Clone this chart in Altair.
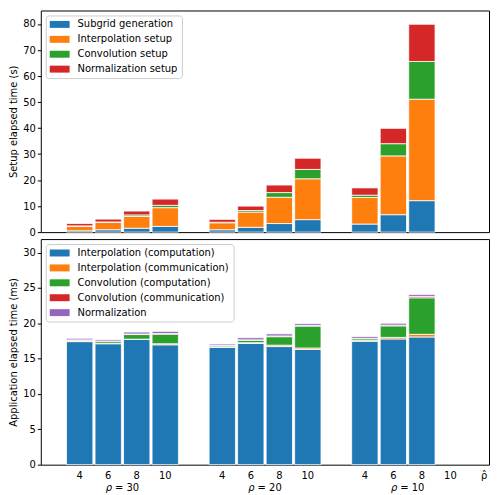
import altair as alt
import pandas as pd

# ---- data ----
rho_groups = [30, 20, 10]
rho_hat = [4, 6, 8, 10]
bar_rho = [30, 30, 30, 30, 20, 20, 20, 20, 10, 10, 10]
bar_rho_hat = [4, 6, 8, 10, 4, 6, 8, 10, 4, 6, 8]

setup_names = ["Subgrid generation", "Interpolation setup", "Convolution setup", "Normalization setup"]
subgrid_gen = [0.5, 0.9, 1.5, 2.2, 0.9, 1.85, 3.3, 4.8, 3.1, 6.7, 12.1]
interp_setup = [1.7, 2.8, 4.5, 7.2, 2.7, 5.85, 10.1, 15.7, 10.2, 22.6, 39.0]
conv_setup = [0.2, 0.2, 0.6, 0.9, 0.2, 0.6, 1.8, 3.6, 0.9, 4.7, 14.5]
norm_setup = [0.9, 1.1, 1.5, 2.4, 1.1, 1.7, 2.9, 4.3, 2.8, 5.9, 14.3]

app_names = ["Interpolation (computation)", "Interpolation (communication)",
             "Convolution (computation)", "Convolution (communication)", "Normalization"]
interp_comp = [17.4, 17.1, 17.7, 16.95, 16.6, 17.15, 16.7, 16.3, 17.45, 17.78, 18.06]
interp_comm = [0.08, 0.05, 0.05, 0.15, 0.05, 0.1, 0.2, 0.2, 0.1, 0.22, 0.37]
conv_comp = [0.12, 0.25, 0.65, 1.35, 0.15, 0.35, 1.2, 3.1, 0.25, 1.63, 5.17]
conv_comm = [0.05, 0.05, 0.08, 0.1, 0.05, 0.05, 0.1, 0.1, 0.05, 0.1, 0.2]
norm_app = [0.22, 0.2, 0.27, 0.3, 0.2, 0.3, 0.3, 0.25, 0.25, 0.27, 0.27]

colors = ["#1f77b4", "#ff7f0e", "#2ca02c", "#d62728", "#9467bd"]
axis_end_label = "\u03c1\u0302"

# ---- tables ----
def slot(r, h):
    return rho_groups.index(r) * 5 + rho_hat.index(h)

def long_table(names, series):
    rows = []
    for k, (name, vals) in enumerate(zip(names, series)):
        for r, h, v in zip(bar_rho, bar_rho_hat, vals):
            rows.append({"pos": slot(r, h), "component": name, "order": k, "value": v})
    return pd.DataFrame(rows)

top_df = long_table(setup_names, [subgrid_gen, interp_setup, conv_setup, norm_setup])
bot_df = long_table(app_names, [interp_comp, interp_comm, conv_comp, conv_comm, norm_app])

XDOM = [-1.19, 14.18]

grp_df = pd.DataFrame({
    "pos": [rho_groups.index(r) * 5 + 1.5 for r in rho_groups],
    "sym": ["\u03c1"] * len(rho_groups),
    "rest": ["= %d" % r for r in rho_groups],
})
tick_df = pd.DataFrame(
    [{"pos": slot(r, h), "label": str(h)} for r in rho_groups for h in rho_hat]
    + [{"pos": XDOM[1], "label": axis_end_label}]
)

W = 451
H_TOP = 223
H_BOT = 227
FONT = "DejaVu Sans"
rect_path = "M-2,-0.7H2V0.7H-2Z"

def legend():
    return alt.Legend(
        orient="top-left", title=None, offset=5, padding=4,
        fillColor="white", strokeColor="#cccccc", cornerRadius=3,
        labelFontSize=10, labelFont=FONT, labelColor="black",
        symbolType=rect_path, symbolSize=100, symbolStrokeWidth=0,
        symbolOpacity=1, rowPadding=5, labelOffset=13, symbolOffset=5,
    )

xscale = alt.Scale(domain=XDOM, nice=False, zero=False)

top = alt.Chart(top_df).mark_bar(size=26.5, stroke="white", strokeWidth=0.8).encode(
    x=alt.X("pos:Q", scale=xscale, axis=None),
    y=alt.Y("value:Q", stack="zero",
            scale=alt.Scale(domain=[0, 85.2], nice=False),
            axis=alt.Axis(values=list(range(0, 81, 10)), title="Setup elapsed time (s)")),
    color=alt.Color("component:N", scale=alt.Scale(domain=setup_names, range=colors[:4]),
                    legend=legend()),
    order=alt.Order("order:Q", sort="ascending"),
).properties(width=W, height=H_TOP)

bot_bars = alt.Chart(bot_df).mark_bar(size=26.5, stroke="white", strokeWidth=0.8).encode(
    x=alt.X("pos:Q", scale=xscale, axis=None),
    y=alt.Y("value:Q", stack="zero",
            scale=alt.Scale(domain=[0, 31.9], nice=False),
            axis=alt.Axis(values=list(range(0, 31, 5)), title="Application elapsed time (ms)")),
    color=alt.Color("component:N", scale=alt.Scale(domain=app_names, range=colors),
                    legend=legend()),
    order=alt.Order("order:Q", sort="ascending"),
)

tick_text = alt.Chart(tick_df).mark_text(fontSize=10, font=FONT, color="black", baseline="middle").encode(
    x=alt.X("pos:Q", scale=xscale),
    y=alt.value(H_BOT + 11),
    text="label:N",
)

grp_sym = alt.Chart(grp_df).mark_text(fontSize=10, font=FONT, fontStyle="italic", color="black",
                                      baseline="middle", align="right", dx=-10.5).encode(
    x=alt.X("pos:Q", scale=xscale),
    y=alt.value(H_BOT + 23),
    text="sym:N",
)
grp_rest = alt.Chart(grp_df).mark_text(fontSize=10, font=FONT, color="black",
                                       baseline="middle", align="left", dx=-7.5).encode(
    x=alt.X("pos:Q", scale=xscale),
    y=alt.value(H_BOT + 23),
    text="rest:N",
)

bottom = alt.layer(bot_bars, tick_text, grp_sym, grp_rest).properties(width=W, height=H_BOT)

chart = alt.vconcat(top, bottom, spacing=0).resolve_scale(color="independent").properties(
    padding={"left": 0, "top": 0, "right": 2, "bottom": 0}
).configure_view(stroke="black", strokeWidth=1).configure_axis(
    grid=False, domain=False, labelFont=FONT, titleFont=FONT, labelFontSize=10,
    titleFontSize=10, titleFontWeight="normal", labelColor="black", titleColor="black",
    tickColor="black", tickSize=3.5, labelPadding=2, titlePadding=4,
).configure_legend(labelLimit=0)

chart.save("out.html", embed_options={"renderer": "svg", "actions": False})
